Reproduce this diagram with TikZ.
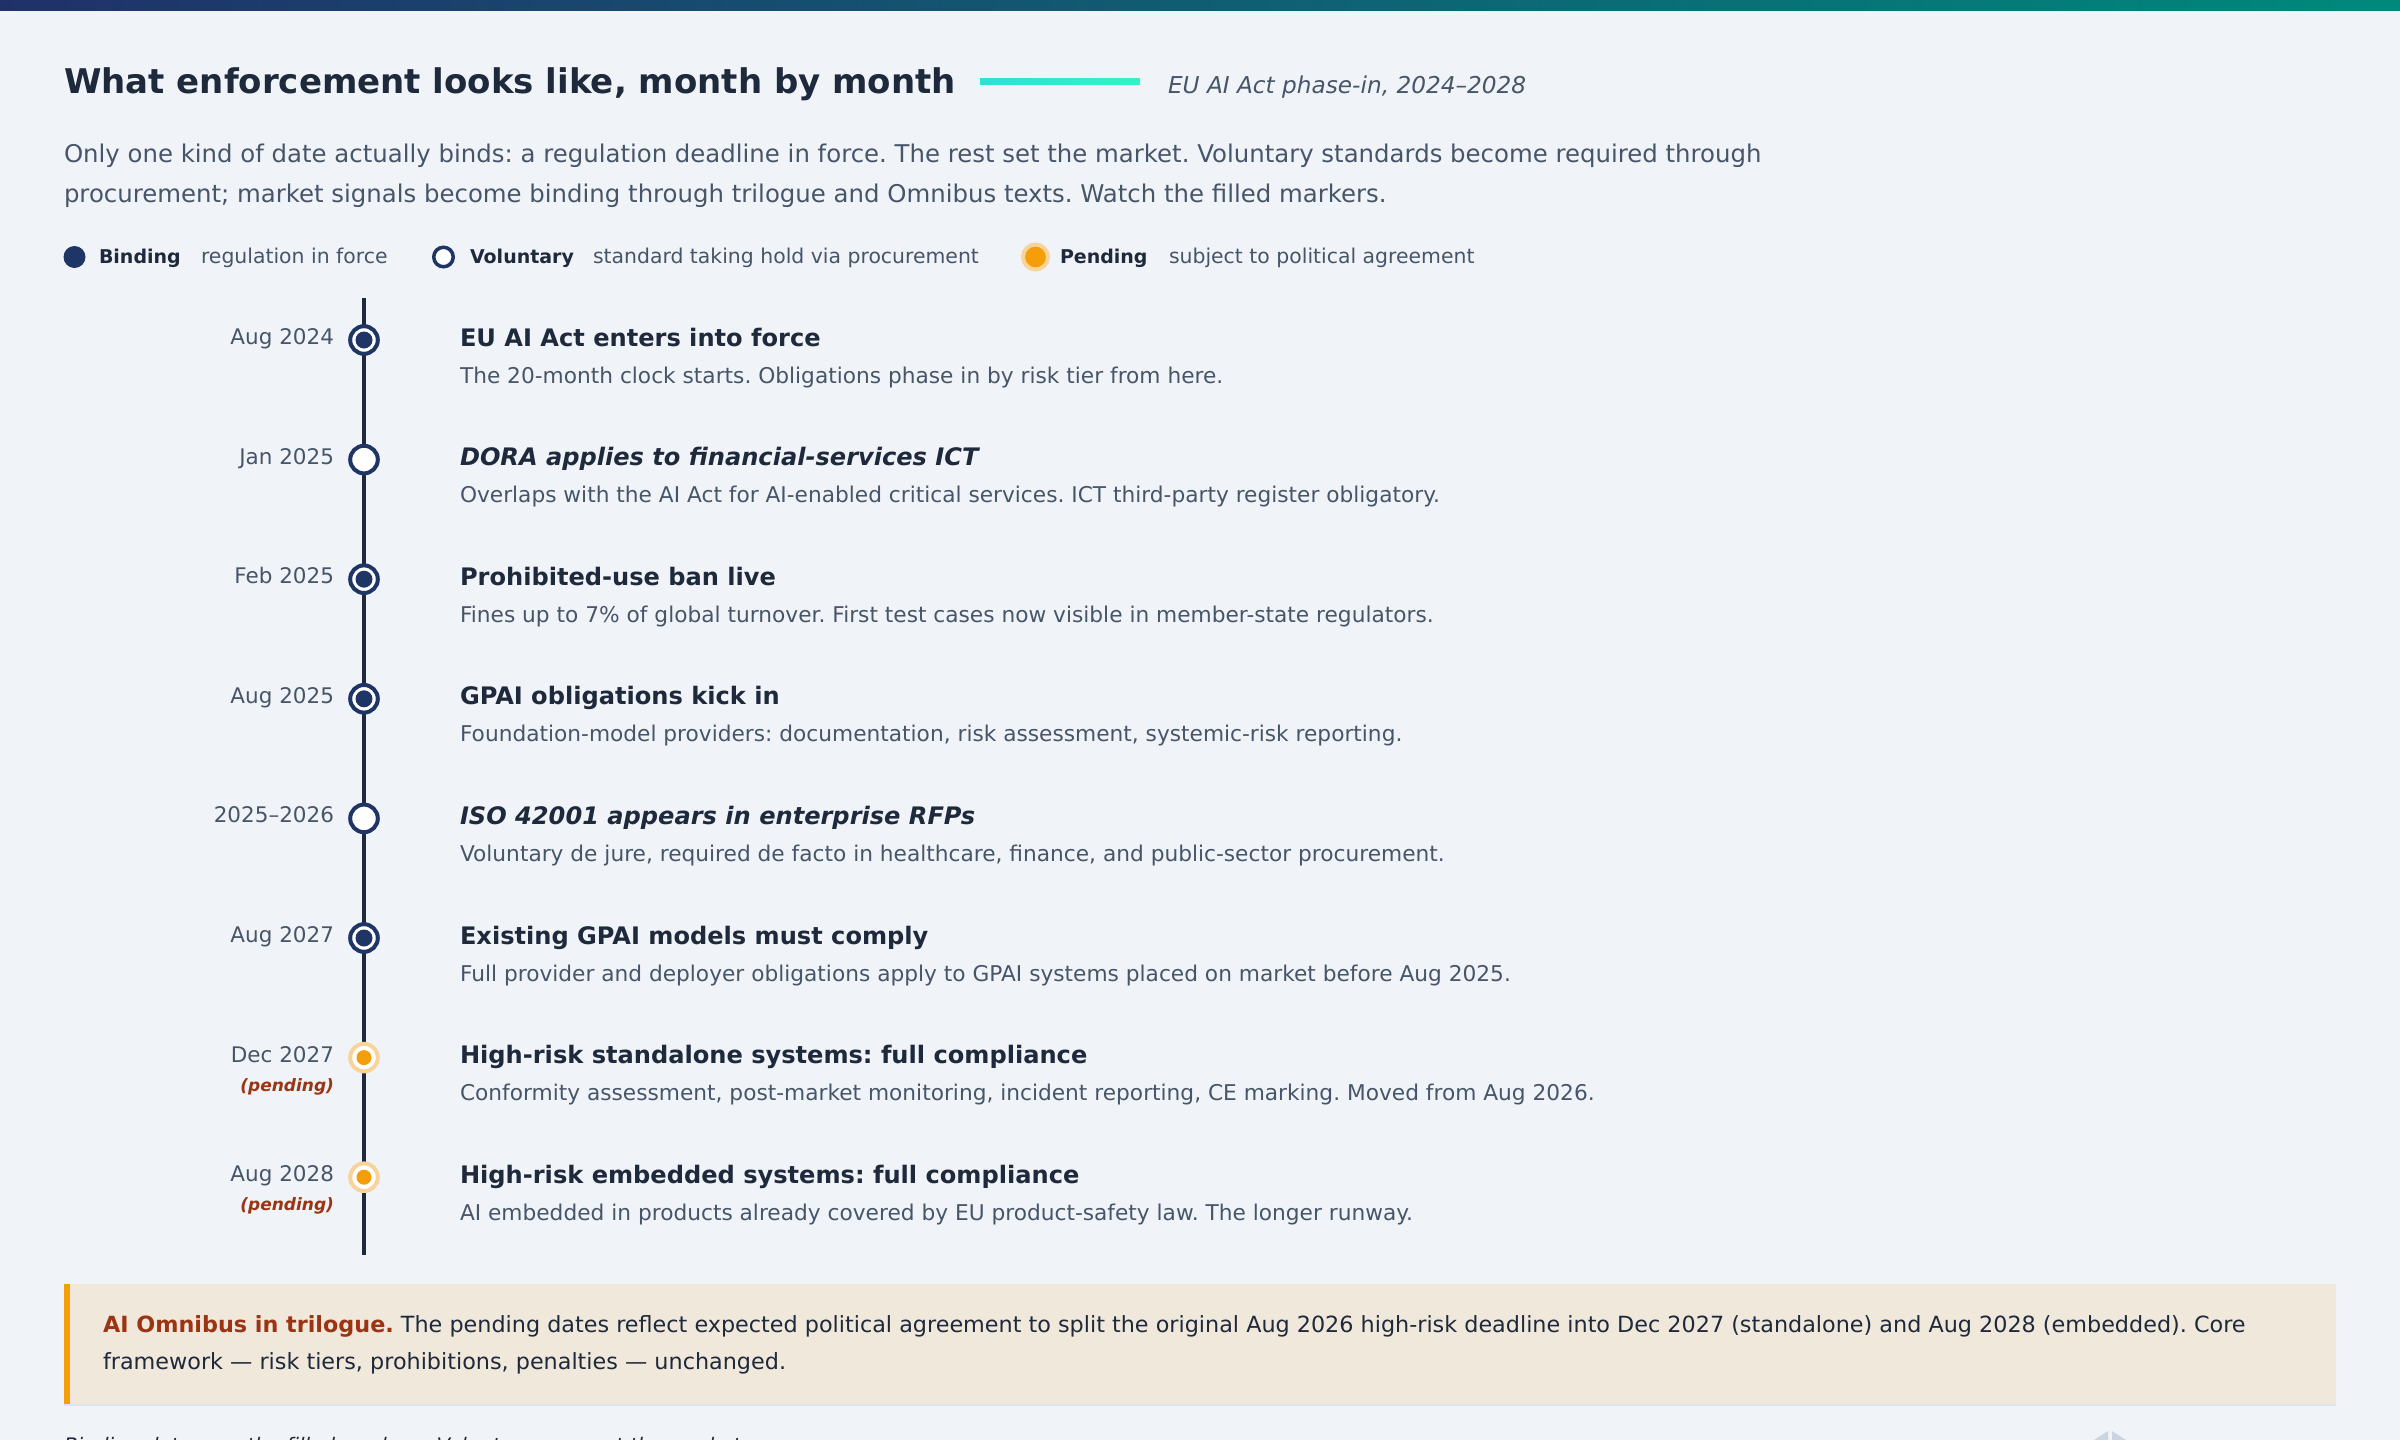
\documentclass[tikz,border=0pt]{standalone}
\usepackage{fontspec}
\setmainfont{DejaVu Sans}
\frenchspacing
\definecolor{bg}{HTML}{F0F4F8}
\definecolor{navy}{HTML}{1E3566}
\definecolor{ink}{HTML}{1E293B}
\definecolor{slate}{HTML}{475569}
\definecolor{amber}{HTML}{F59E0B}
\definecolor{halo}{HTML}{F8D49A}
\definecolor{rust}{HTML}{9A3412}
\definecolor{callbg}{HTML}{F1E8DC}
\definecolor{callrule}{HTML}{DCE3EC}
\definecolor{barL}{HTML}{20316A}
\definecolor{barR}{HTML}{00897B}
\definecolor{tealL}{HTML}{2DE0D8}
\definecolor{tealR}{HTML}{2EF5C4}
\definecolor{iconc}{HTML}{CBD5E1}
\tikzset{
  txt/.style={inner sep=0pt, outer sep=0pt},
  bw/.style={txt, anchor=base west},
  be/.style={txt, anchor=base east},
  hdr/.style={bw, text=ink, font=\fontsize{17}{20}\selectfont\bfseries},
  subt/.style={bw, text=slate, font=\fontsize{11.6}{13}\selectfont\itshape},
  para/.style={bw, text=slate, font=\fontsize{12.2}{14}\selectfont},
  legb/.style={bw, text=ink, font=\fontsize{9.5}{11}\selectfont\bfseries},
  legt/.style={bw, text=slate, font=\fontsize{10.2}{12}\selectfont},
  datet/.style={be, text=slate, font=\fontsize{10.75}{12}\selectfont},
  pendt/.style={be, text=rust, font=\fontsize{8.5}{10}\selectfont\bfseries\itshape},
  evt/.style={bw, text=ink, font=\fontsize{12.05}{15}\selectfont\bfseries},
  evti/.style={bw, text=ink, font=\fontsize{12.05}{15}\selectfont\bfseries\itshape},
  desc/.style={bw, text=slate, font=\fontsize{10.85}{12}\selectfont},
  callt/.style={bw, text=ink, font=\fontsize{11.15}{13}\selectfont},
  bindmk/.style={circle, draw=navy, line width=2pt, fill=white, minimum size=13.8pt, inner sep=0pt,
    path picture={\fill[navy] (path picture bounding box.center) circle[radius=4.25pt];}},
  volmk/.style={circle, draw=navy, line width=2pt, fill=white, minimum size=13.8pt, inner sep=0pt},
  penmk/.style={circle, draw=halo, line width=2pt, fill=white, minimum size=13.8pt, inner sep=0pt,
    path picture={\fill[amber] (path picture bounding box.center) circle[radius=3.75pt];}},
  legbind/.style={circle, fill=navy, minimum size=11pt, inner sep=0pt},
  legvol/.style={circle, draw=navy, line width=1.75pt, fill=white, minimum size=9.75pt, inner sep=0pt},
  legpen/.style={circle, draw=halo, line width=2pt, fill=amber, minimum size=12.5pt, inner sep=0pt},
  spine/.style={draw=ink, line width=2pt},
}
\begin{document}
\begin{tikzpicture}[x=0.5pt,y=-0.5pt]
\path[use as bounding box, clip] (0,0) rectangle (2400,1440);
\fill[bg] (0,0) rectangle (2400,1440);
\shade[left color=barL, right color=barR] (0,0) rectangle (2400,10);

% header
\node[hdr] (title) at (64,93) {What enforcement looks like, month by month};
\shade[left color=tealL, right color=tealR] (980,78) rectangle (1140,84);
\node[subt] (subtitle) at (1168,93) {EU AI Act phase-in, 2024–2028};
\node[para] (p1) at (64,162.5) {Only one kind of date actually binds: a regulation deadline in force. The rest set the market. Voluntary standards become required through};
\node[para] (p2) at (64,202) {procurement; market signals become binding through trilogue and Omnibus texts. Watch the filled markers.};

% legend
\node[legbind] (lg1) at (74.5,257) {};
\node[legb] (lg1a) at (99,263.3) {Binding};
\node[legt] (lg1b) at (201,263.3) {regulation in force};
\node[legvol] (lg2) at (443.5,257) {};
\node[legb] (lg2a) at (470,263.3) {Voluntary};
\node[legt] (lg2b) at (593,263.3) {standard taking hold via procurement};
\node[legpen] (lg3) at (1035.5,257) {};
\node[legb] (lg3a) at (1060,263.3) {Pending};
\node[legt] (lg3b) at (1169,263.3) {subject to political agreement};

% timeline spine
\coordinate (tltop) at (364,298);
\coordinate (tlbot) at (364,1255);
\draw[spine] (tltop) -- (tlbot);

% events
\node[bindmk] (m1) at (364,340) {};
\node[datet] (d1) at (334,344.5) {Aug 2024};
\node[evt] (t1) at (460,346) {EU AI Act enters into force};
\node[desc] (s1) at (460,383) {The 20-month clock starts. Obligations phase in by risk tier from here.};

\node[volmk] (m2) at (364,459.6) {};
\node[datet] (d2) at (334,464.1) {Jan 2025};
\node[evti] (t2) at (460,465.6) {DORA applies to financial-services ICT};
\node[desc] (s2) at (460,502.6) {Overlaps with the AI Act for AI-enabled critical services. ICT third-party register obligatory.};

\node[bindmk] (m3) at (364,579.2) {};
\node[datet] (d3) at (334,583.7) {Feb 2025};
\node[evt] (t3) at (460,585.2) {Prohibited-use ban live};
\node[desc] (s3) at (460,622.2) {Fines up to 7\% of global turnover. First test cases now visible in member-state regulators.};

\node[bindmk] (m4) at (364,698.8) {};
\node[datet] (d4) at (334,703.3) {Aug 2025};
\node[evt] (t4) at (460,704.8) {GPAI obligations kick in};
\node[desc] (s4) at (460,741.8) {Foundation-model providers: documentation, risk assessment, systemic-risk reporting.};

\node[volmk] (m5) at (364,818.4) {};
\node[datet] (d5) at (334,822.9) {2025–2026};
\node[evti] (t5) at (460,824.4) {ISO 42001 appears in enterprise RFPs};
\node[desc] (s5) at (460,861.4) {Voluntary de jure, required de facto in healthcare, finance, and public-sector procurement.};

\node[bindmk] (m6) at (364,938) {};
\node[datet] (d6) at (334,942.5) {Aug 2027};
\node[evt] (t6) at (460,944) {Existing GPAI models must comply};
\node[desc] (s6) at (460,981) {Full provider and deployer obligations apply to GPAI systems placed on market before Aug 2025.};

\node[penmk] (m7) at (364,1057.6) {};
\node[datet] (d7) at (334,1062.1) {Dec 2027};
\node[pendt] (q7) at (334,1091) {(pending)};
\node[evt] (t7) at (460,1063.6) {High-risk standalone systems: full compliance};
\node[desc] (s7) at (460,1100.6) {Conformity assessment, post-market monitoring, incident reporting, CE marking. Moved from Aug 2026.};

\node[penmk] (m8) at (364,1177.2) {};
\node[datet] (d8) at (334,1181.7) {Aug 2028};
\node[pendt] (q8) at (334,1210.6) {(pending)};
\node[evt] (t8) at (460,1183.2) {High-risk embedded systems: full compliance};
\node[desc] (s8) at (460,1220.2) {AI embedded in products already covered by EU product-safety law. The longer runway.};

% callout
\fill[callbg] (64,1284) rectangle (2336,1404);
\fill[callrule] (64,1404) rectangle (2336,1406);
\fill[amber] (64,1284) rectangle (70,1404);
\node[callt] (c1) at (103,1332.7) {\textcolor{rust}{\bfseries AI Omnibus in trilogue.} The pending dates reflect expected political agreement to split the original Aug 2026 high-risk deadline into Dec 2027 (standalone) and Aug 2028 (embedded). Core};
\node[callt] (c2) at (103,1369) {framework — risk tiers, prohibitions, penalties — unchanged.};

% cut-off footer
\node[bw, text=ink, font=\fontsize{10}{12}\selectfont\itshape] (foot) at (64,1452) {Binding dates are the filled markers. Voluntary ones set the market.};
\fill[iconc] (2108,1431) -- (2094,1440) -- (2108,1440) -- cycle;
\fill[iconc] (2112,1431) -- (2126,1440) -- (2112,1440) -- cycle;
\end{tikzpicture}
\end{document}
